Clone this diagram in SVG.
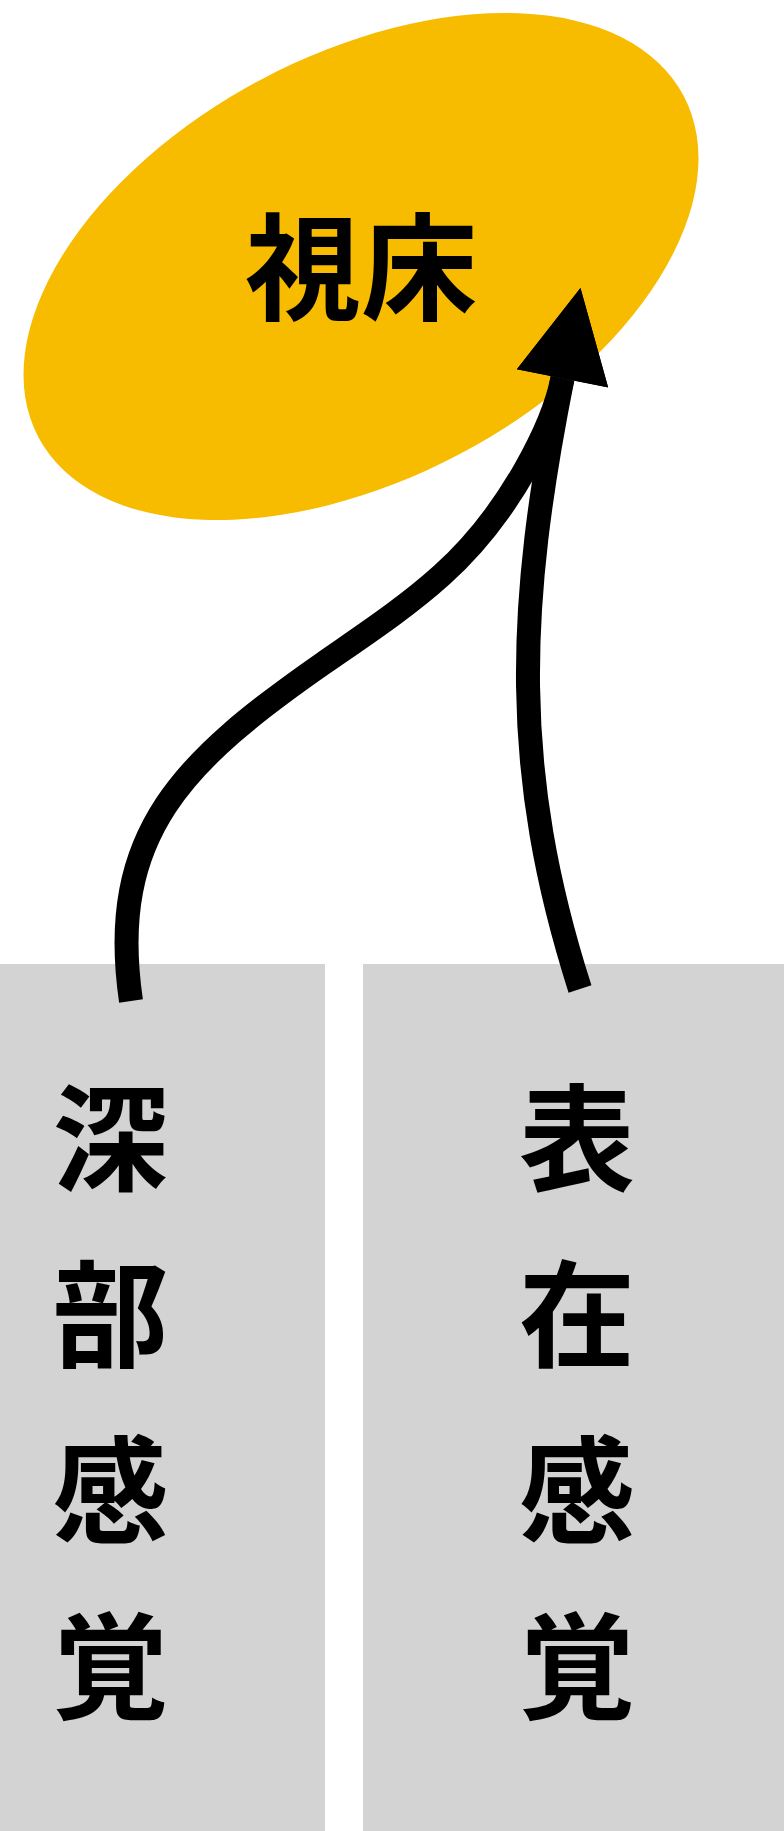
<svg xmlns="http://www.w3.org/2000/svg" width="784" height="1831" viewBox="0 0 784 1831">
  <style>
    .label { font-family: "Noto Sans CJK JP", "Noto Sans CJK SC", sans-serif; font-weight: 700; font-size: 116px; fill: #000; text-anchor: middle; }
    .box { fill: #D3D3D3; }
    .conn { fill: none; stroke: #000; stroke-width: 24; stroke-linecap: butt; }
  </style>
  <defs>
    <marker id="arrow" markerUnits="userSpaceOnUse" markerWidth="100" markerHeight="100" viewBox="0 -50 100 100" refX="0" refY="0" orient="auto" overflow="visible">
      <path d="M0,-46.5 L92,0 L0,46.5 Z" fill="#000"/>
    </marker>
  </defs>
  <rect width="784" height="1831" fill="#FFFFFF"/>

  <g id="node-thalamus">
    <ellipse cx="361" cy="266.5" rx="365" ry="212" transform="rotate(-27.9 361 266.5)" fill="#F7BB00"/>
    <text class="label" x="361" y="310.5">視床</text>
  </g>

  <g id="node-deep-sensation">
    <rect class="box" x="0" y="964" width="325" height="867"/>
    <text class="label" x="110.5" y="1181.5">深</text>
    <text class="label" x="110.5" y="1357.5">部</text>
    <text class="label" x="110.5" y="1533.5">感</text>
    <text class="label" x="110.5" y="1709.5">覚</text>
  </g>

  <g id="node-surface-sensation">
    <rect class="box" x="363" y="964" width="421" height="867"/>
    <text class="label" x="577" y="1181.5">表</text>
    <text class="label" x="577" y="1357.5">在</text>
    <text class="label" x="577" y="1533.5">感</text>
    <text class="label" x="577" y="1709.5">覚</text>
  </g>

  <g id="connectors">
    <path class="conn" d="M131,1001 C106.4,832.9 184.3,760.2 323.7,663 C363.9,635 405.4,607.8 441.8,575 C512.4,511.4 553.7,422.4 562.5,378.3" marker-end="url(#arrow)"/>
    <path class="conn" d="M580,989 C510,770 517.3,605.9 562.5,378.3" marker-end="url(#arrow)"/>
  </g>
</svg>
